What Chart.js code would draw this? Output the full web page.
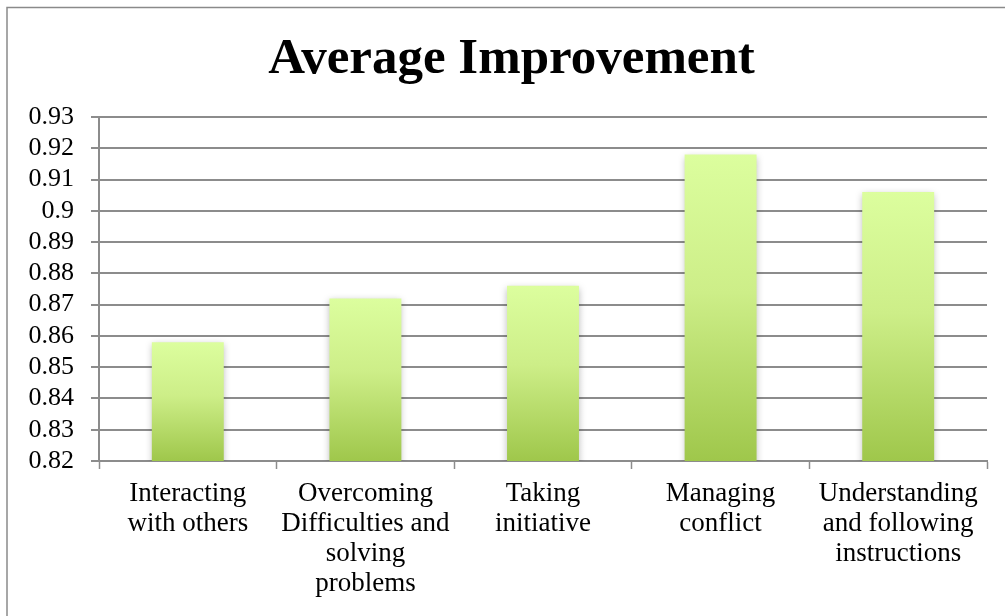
<!DOCTYPE html>
<html>
<head>
<meta charset="utf-8">
<script src="https://cdn.jsdelivr.net/npm/chart.js@4.4.1/dist/chart.umd.min.js"></script>
<style>
  html, body { margin: 0; padding: 0; background: #ffffff; }
  #wrap { width: 1005px; height: 616px; position: relative; }
</style>
</head>
<body>
<div id="wrap"><canvas id="c" width="1005" height="616"></canvas></div>
<script>
// ---- Data ----
const categories = [
  ["Interacting", "with others"],
  ["Overcoming", "Difficulties and", "solving", "problems"],
  ["Taking", "initiative"],
  ["Managing", "conflict"],
  ["Understanding", "and following", "instructions"]
];
const averageImprovement = [0.858, 0.872, 0.876, 0.918, 0.906];
const yTicks = [0.82, 0.83, 0.84, 0.85, 0.86, 0.87, 0.88, 0.89, 0.9, 0.91, 0.92, 0.93];
const yTickLabels = ["0.82", "0.83", "0.84", "0.85", "0.86", "0.87", "0.88", "0.89", "0.9", "0.91", "0.92", "0.93"];
const chartTitle = "Average Improvement";

// ---- Styles ----
const FONT = "'Liberation Serif', 'Times New Roman', serif";
const GRID = "#8c8c8c";
const yMin = yTicks[0];
const yMax = yTicks[yTicks.length - 1];

function barGradient(ctx) {
  const chart = ctx.chart;
  const area = chart.chartArea;
  if (!area || ctx.type !== 'data') return '#c4e57f';
  const ys = chart.scales.y;
  const top = ys.getPixelForValue(ctx.parsed.y);
  const bottom = ys.getPixelForValue(yMin);
  const g = chart.ctx.createLinearGradient(0, top, 0, bottom);
  g.addColorStop(0, '#dcfe9e');
  g.addColorStop(0.45, '#cdee88');
  g.addColorStop(1, '#9fc74b');
  return g;
}

const framePlugin = {
  id: 'frame',
  beforeDraw(chart) {
    const c = chart.ctx;
    c.save();
    c.fillStyle = '#ffffff';
    c.fillRect(0, 0, chart.width, chart.height);
    c.strokeStyle = '#8a8a8a';
    c.lineWidth = 1.5;
    c.beginPath();
    c.moveTo(7, chart.height + 2);
    c.lineTo(7, 7.5);
    c.lineTo(chart.width + 2, 7.5);
    c.stroke();
    c.restore();
  },
  afterDraw(chart) {
    const c = chart.ctx;
    c.save();
    c.fillStyle = '#000000';
    c.font = "bold 51px " + FONT;
    c.textAlign = 'center';
    c.textBaseline = 'alphabetic';
    c.fillText(chartTitle, 511.5, 73);
    c.restore();
  }
};

const shadowPlugin = {
  id: 'barShadow',
  beforeDatasetsDraw(chart) {
    const c = chart.ctx;
    c.save();
    c.shadowColor = 'rgba(0,0,0,0.28)';
    c.shadowBlur = 7;
    c.shadowOffsetX = 0;
    c.shadowOffsetY = 2;
  },
  afterDatasetsDraw(chart) {
    chart.ctx.restore();
  }
};

new Chart(document.getElementById('c'), {
  type: 'bar',
  data: {
    labels: categories,
    datasets: [{
      label: chartTitle,
      data: averageImprovement,
      backgroundColor: barGradient,
      borderWidth: 0,
      barPercentage: 0.405,
      categoryPercentage: 1.0
    }]
  },
  options: {
    responsive: false,
    devicePixelRatio: 1,
    animation: false,
    layout: { padding: { left: 0, right: 18, top: 117, bottom: 0 } },
    plugins: {
      legend: { display: false },
      tooltip: { enabled: false },
      title: { display: false }
    },
    scales: {
      x: {
        offset: true,
        grid: {
          display: true,
          drawOnChartArea: false,
          drawTicks: true,
          tickLength: 8,
          tickWidth: 1.5,
          tickColor: GRID,
          offset: true
        },
        border: { display: true, color: GRID, width: 2 },
        ticks: {
          color: '#000000',
          font: { family: FONT, size: 27, lineHeight: 1.11 },
          padding: 10,
          maxRotation: 0,
          autoSkip: false
        },
        afterFit(scale) { scale.height = 155; }
      },
      y: {
        min: yMin,
        max: yMax,
        grid: {
          color: GRID,
          lineWidth: 2,
          drawTicks: true,
          tickLength: 8,
          tickColor: GRID
        },
        border: { display: true, color: GRID, width: 2 },
        ticks: {
          color: '#000000',
          font: { family: FONT, size: 26 },
          padding: 17,
          autoSkip: false,
          callback: (v, i) => yTickLabels[i]
        },
        afterBuildTicks(scale) {
          scale.ticks = yTicks.map(v => ({ value: v }));
        },
        afterFit(scale) { scale.width = 99; }
      }
    }
  },
  plugins: [framePlugin, shadowPlugin]
});
</script>
</body>
</html>
